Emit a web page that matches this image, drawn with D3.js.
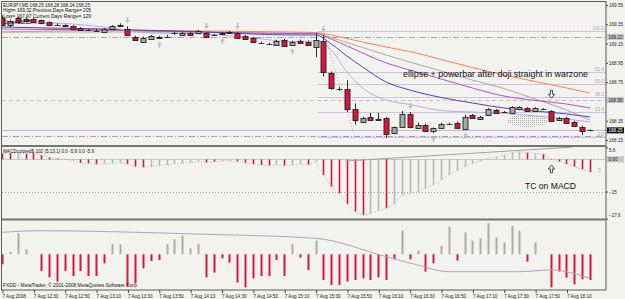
<!DOCTYPE html>
<html>
<head>
<meta charset="utf-8">
<script src="https://cdn.jsdelivr.net/npm/d3@7"></script>
<style>
  body { margin: 0; background: #f4f4f0; }
  svg { display: block; font-family: "Liberation Sans", Arial, sans-serif; }
</style>
</head>
<body>
<div id="chart"></div>
<script>
// ---- data (EURJPY M5, 7 Aug 2008, 76 bars from 12:10) ----
var opens  = [169.42,169.34,169.42,169.40,169.41,169.39,169.37,169.34,169.34,169.33,169.31,169.29,169.28,169.27,169.30,169.34,
              169.30,169.22,169.17,169.20,169.22,169.22,169.26,169.24,169.26,169.26,169.26,169.24,169.26,169.27,169.26,169.23,
              169.21,169.16,169.15,169.14,169.19,169.14,169.18,169.17,169.12,169.18,168.85,168.68,168.68,168.47,168.34,168.39,
              168.37,168.38,168.22,168.29,168.42,168.28,168.31,168.24,168.28,168.32,168.33,168.27,168.41,168.37,168.41,168.46,
              168.44,168.43,168.47,168.48,168.45,168.47,168.45,168.36,168.38,168.34,168.29,168.25];
var highs  = [169.44,169.40,169.43,169.42,169.42,169.40,169.38,169.36,169.35,169.34,169.32,169.30,169.30,169.31,169.34,169.36,
              169.33,169.23,169.22,169.24,169.23,169.24,169.27,169.27,169.27,169.29,169.27,169.25,169.27,169.28,169.27,169.24,
              169.22,169.17,169.16,169.19,169.20,169.18,169.19,169.18,169.26,169.24,168.86,168.70,168.77,168.53,168.39,168.43,
              168.43,168.39,168.29,168.45,168.44,168.33,168.32,168.28,168.33,168.33,168.34,168.41,168.42,168.40,168.48,168.47,
              168.45,168.50,168.50,168.49,168.49,168.48,168.46,168.39,168.39,168.35,168.30,168.26];
var lows   = [169.33,169.32,169.37,169.37,169.37,169.35,169.33,169.33,169.32,169.29,169.28,169.28,169.27,169.26,169.29,169.32,
              169.23,169.18,169.16,169.19,169.20,169.21,169.24,169.23,169.23,169.25,169.21,169.23,169.24,169.25,169.20,169.19,
              169.16,169.15,169.14,169.13,169.12,169.13,169.15,169.13,169.01,168.81,168.67,168.66,168.44,168.31,168.33,168.35,
              168.35,168.17,168.21,168.28,168.27,168.27,168.24,168.22,168.27,168.31,168.27,168.26,168.37,168.36,168.40,168.42,
              168.43,168.42,168.46,168.44,168.44,168.46,168.34,168.35,168.32,168.29,168.20,168.24];
var closes = [169.35,169.38,169.38,169.38,169.38,169.36,169.34,169.34,169.33,169.30,169.29,169.29,169.28,169.30,169.33,169.33,
              169.24,169.19,169.21,169.23,169.21,169.22,169.26,169.26,169.24,169.28,169.22,169.24,169.25,169.26,169.21,169.20,
              169.17,169.16,169.15,169.18,169.13,169.17,169.16,169.14,169.19,168.86,168.69,168.68,168.47,168.36,168.38,168.36,
              168.36,168.21,168.28,168.42,168.28,168.31,168.25,168.27,168.32,168.32,168.28,168.39,168.38,168.39,168.47,168.43,
              168.44,168.49,168.49,168.45,168.48,168.47,168.35,168.38,168.33,168.30,168.25,168.25];

// moving averages, sampled at these bars
var maBars     = [0, 6, 13, 19, 26, 32, 37, 40, 42, 44, 46, 49, 52, 56, 60, 64, 68, 72, 75];
var maCoral    = [169.270,169.280,169.286,169.286,169.280,169.275,169.270,169.265,169.239,169.203,169.166,169.114,169.068,168.985,168.902,168.824,168.757,168.689,168.637];
var maGray     = [169.270,169.270,169.270,169.270,169.265,169.260,169.260,169.260,169.213,169.161,169.109,169.032,168.959,168.866,168.772,168.684,168.575,168.461,168.357];
var maPurple   = [169.301,169.296,169.291,169.280,169.270,169.260,169.254,169.254,169.197,169.125,169.052,168.949,168.876,168.783,168.689,168.606,168.560,168.523,168.482];
var maNavy     = [169.322,169.311,169.301,169.286,169.270,169.249,169.239,169.239,169.146,169.021,168.907,168.751,168.669,168.591,168.534,168.482,168.451,168.420,168.389];
var maLavender = [169.353,169.363,169.322,169.260,169.249,169.208,169.171,169.177,169.083,168.855,168.689,168.565,168.518,168.456,168.440,168.425,168.399,168.368,168.337];

var fractalHighBars = [16, 26, 30, 41, 52];
var fractalLowBars  = [20, 28, 37, 55, 59];

var fibLevels = [100, 61.8, 50, 38.2, 23.6, 0];
var fibLabels = ["100.0", "61.8", "50.0", "38.2", "23.6", "0.0"];
var fibHigh = 169.28, fibLow = 168.18, fibStartBar = 41, fibEndBar = 45;

var priceLines = [169.22, 168.565, 168.25, 168.19];
var priceTicks = [169.55, 169.35, 169.15, 168.95, 168.75, 168.35, 168.15];

// MACD colored (5,13,1)
var macdValues = [2.8,2.9,2.8,2.8,2.8,2.0,0.9,0.3,0.1,-0.6,-1.6,-1.9,-2.2,-2.2,-1.9,-1.6,
                  -2.2,-3.4,-3.7,-3.4,-2.8,-2.6,-2.2,-1.9,-1.6,-1.1,-1.4,-1.1,-0.8,-0.6,-1.1,-1.6,
                  -2.2,-2.6,-3.0,-2.6,-3.0,-2.6,-2.2,-2.6,-1.1,-7.3,-12.7,-15.8,-20.8,-24.4,-26.0,-25.1,
                  -23.9,-22.8,-21.0,-16.6,-15.8,-15.1,-13.5,-12.0,-9.6,-7.3,-5.3,-3.4,-1.9,-0.6,0.3,1.2,
                  2.0,3.1,3.5,3.1,2.8,2.5,0.2,-1.1,-2.2,-3.4,-4.7,-5.9];
var macdUp     = [0,0,1,0,0,0,0,0,0,1,0,0,0,1,1,1,
                  0,0,0,1,1,1,1,1,1,1,0,0,1,1,0,0,
                  0,0,0,1,0,1,1,0,1,0,0,0,0,0,0,1,
                  1,0,1,1,1,1,1,1,1,1,1,1,1,1,1,1,
                  1,1,1,0,1,0,0,0,0,0,0,0];
var macdTicks = [5.6, -15, -27.6];
var macdTrend = [[43.8, -0.8], [72.8, 5.7]];

// lower oscillator
var oscValues = [-10,2.7,21,5,0,-16.7,-23,-27.3,-16.7,-21.7,-16.7,-21.7,-21.7,-9,10,10,
                 -31.7,-29,-14,-6.7,-5.7,10,15,18.7,6,10,-23,-18.3,-4,-8.3,-28.3,-33,
                 -24,-21.7,-21.7,-5.7,-21.7,10,-3.3,-15.7,13.7,-25.7,-30.7,-30.7,-27.3,-25.7,-24,-25.7,
                 -23,-25.7,-5,23.7,-5,3.7,-17.3,-9,8.3,27.7,-6.3,22,13.7,16,31,16.7,
                 12,28.3,23.3,-7.3,12,0,-33,-17.3,-23.3,-30,-25,-25.7];
var oscLineBars = [0, 5, 14, 26, 40, 49, 53, 57, 66, 70, 75];
var oscLineVals = [22, 23.6, 22.6, 20, 16, -2.4, -10.7, -17.4, -17.4, -15.7, -24];

var timeBars   = [0, 4, 8, 12, 16, 20, 24, 28, 32, 36, 40, 44, 48, 52, 56, 60, 64, 68, 72];
var timeLabels = ["7 Aug 2008", "7 Aug 12:30", "7 Aug 12:50", "7 Aug 13:10", "7 Aug 13:30", "7 Aug 13:50",
                  "7 Aug 14:10", "7 Aug 14:30", "7 Aug 14:50", "7 Aug 15:10", "7 Aug 15:30", "7 Aug 15:50",
                  "7 Aug 16:10", "7 Aug 16:30", "7 Aug 16:50", "7 Aug 17:10", "7 Aug 17:30", "7 Aug 17:50", "7 Aug 18:10"];

// ---- drawing ----
var W = 625, H = 299;
var left = 2, right = 606;

var svg = d3.select("#chart").append("svg")
    .attr("width", W)
    .attr("height", H);

var defs = svg.append("defs");
var bg = defs.append("pattern").attr("id", "bg")
    .attr("width", 4).attr("height", 4).attr("patternUnits", "userSpaceOnUse");
bg.append("rect").attr("width", 4).attr("height", 4).attr("fill", "#f4f4f0");
bg.append("rect").attr("x", 1).attr("y", 1).attr("width", 1).attr("height", 1).attr("fill", "#ece2e2");
bg.append("rect").attr("x", 3).attr("y", 3).attr("width", 1).attr("height", 1).attr("fill", "#eceae6");
var stip = defs.append("pattern").attr("id", "stip")
    .attr("width", 2).attr("height", 2).attr("patternUnits", "userSpaceOnUse");
stip.append("rect").attr("width", 1).attr("height", 1).attr("fill", "#a8a8a8");

defs.append("clipPath").attr("id", "clipP").append("rect")
    .attr("x", left).attr("y", 2).attr("width", right - left).attr("height", 143);
defs.append("clipPath").attr("id", "clipM").append("rect")
    .attr("x", left).attr("y", 147).attr("width", right - left).attr("height", 72);
defs.append("clipPath").attr("id", "clipO").append("rect")
    .attr("x", left).attr("y", 220).attr("width", right - left).attr("height", 70);

svg.append("rect").attr("width", W).attr("height", H).attr("fill", "url(#bg)");

var x  = d3.scaleLinear().domain([0, 75]).range([2, 590]);
var yP = d3.scaleLinear().domain([168.15, 169.55]).range([140, 5]);
var yM = d3.scaleLinear().domain([-27.6, 5.6]).range([218.6, 147.3]);
var yO = d3.scaleLinear().domain([-35.7, 34.3]).range([290, 220]);

function px(i) { return Math.round(x(i)) + 0.5; }

// ===== price pane =====
var pp = svg.append("g").attr("clip-path", "url(#clipP)");

// horizontal price lines
var lineStyles = [
  {c: "#a4a4a4", d: "6,2,1,2"},
  {c: "#e6b4bc", d: "4,3"},
  {c: "#c4b6e4", d: null},
  {c: "#a4a4a4", d: "6,2,1,2"}
];
pp.selectAll(".hline").data(priceLines).enter().append("line")
    .attr("x1", left).attr("x2", right)
    .attr("y1", function(d) { return Math.round(yP(d)) + 0.5; })
    .attr("y2", function(d) { return Math.round(yP(d)) + 0.5; })
    .attr("stroke", function(d, k) { return lineStyles[k].c; })
    .attr("stroke-dasharray", function(d, k) { return lineStyles[k].d; });

// fibonacci levels
function fibPrice(l) { return fibLow + (fibHigh - fibLow) * l / 100; }
pp.selectAll(".fib").data(fibLevels).enter().append("line")
    .attr("x1", x(fibStartBar) - 6).attr("x2", right)
    .attr("y1", function(d) { return Math.round(yP(fibPrice(d))) + 0.5; })
    .attr("y2", function(d) { return Math.round(yP(fibPrice(d))) + 0.5; })
    .attr("stroke", "#cdc2e2");
pp.selectAll(".fibt").data(fibLevels).enter().append("text")
    .attr("x", right - 2)
    .attr("y", function(d) { return yP(fibPrice(d)) - 1; })
    .attr("text-anchor", "end")
    .attr("font-size", 4.6)
    .attr("fill", "#a8a8a8")
    .text(function(d, k) { return fibLabels[k]; });
pp.append("line")
    .attr("x1", x(fibStartBar)).attr("y1", yP(fibHigh))
    .attr("x2", x(fibEndBar)).attr("y2", yP(fibLow))
    .attr("stroke", "#b0b0b0").attr("stroke-dasharray", "1,2");

// moving averages
var maLine = d3.line()
    .x(function(d) { return x(d[0]); })
    .y(function(d) { return yP(d[1]); })
    .curve(d3.curveMonotoneX);
var maSeries = [
  {v: maCoral, c: "#ff7f50"},
  {v: maGray, c: "#a9a9a9"},
  {v: maPurple, c: "#b552c4"},
  {v: maNavy, c: "#4a48b0"},
  {v: maLavender, c: "#b9a8ea"}
];
maSeries.forEach(function(s) {
  pp.append("path")
    .datum(maBars.map(function(b, k) { return [b, s.v[k]]; }))
    .attr("fill", "none")
    .attr("stroke", s.c)
    .attr("stroke-width", 1)
    .attr("d", maLine);
});

// candles
var candles = d3.range(opens.length).map(function(i) {
  return {i: i, o: opens[i], h: highs[i], l: lows[i], c: closes[i]};
});
var cg = pp.append("g");
cg.selectAll(".wick").data(candles).enter().append("line")
    .attr("x1", function(d) { return px(d.i); })
    .attr("x2", function(d) { return px(d.i); })
    .attr("y1", function(d) { return yP(d.h); })
    .attr("y2", function(d) { return yP(d.l); })
    .attr("stroke", "#2a2a2a");
cg.selectAll(".body").data(candles).enter().append("rect")
    .attr("x", function(d) { return px(d.i) - 2.5; })
    .attr("width", 5)
    .attr("y", function(d) { return Math.round(yP(Math.max(d.o, d.c))) + 0.5; })
    .attr("height", function(d) { return Math.max(0.01, Math.round(Math.abs(yP(d.o) - yP(d.c)))); })
    .attr("fill", function(d) { return d.c > d.o ? "#a8a8a8" : (d.c < d.o ? "#dc143c" : "none"); })
    .attr("stroke", "#222")
    .attr("stroke-width", 0.9);

// fractal arrows
function arrowDown(cx, y0, s) {
  return "M" + (cx - 0.8 * s) + "," + y0 + "h" + (1.6 * s) + "v" + (3 * s) + "h" + (1.6 * s) +
         "l" + (-2.4 * s) + "," + (3 * s) + "l" + (-2.4 * s) + "," + (-3 * s) + "h" + (1.6 * s) + "z";
}
function arrowUp(cx, y0, s) {
  return "M" + (cx - 0.8 * s) + "," + y0 + "h" + (1.6 * s) + "v" + (-3 * s) + "h" + (1.6 * s) +
         "l" + (-2.4 * s) + "," + (-3 * s) + "l" + (-2.4 * s) + "," + (3 * s) + "h" + (1.6 * s) + "z";
}
pp.selectAll(".fh").data(fractalHighBars).enter().append("path")
    .attr("d", function(b) { return arrowDown(px(b), yP(highs[b]) - 9, 1); })
    .attr("fill", "#bdbdbd");
pp.selectAll(".fl").data(fractalLowBars).enter().append("path")
    .attr("d", function(b) { return arrowUp(px(b), yP(lows[b]) + 9, 1); })
    .attr("fill", "#bdbdbd");

// ellipse and drawn arrow
pp.append("ellipse")
    .attr("cx", x(67)).attr("cy", yP(168.35))
    .attr("rx", x(2.55) - x(0)).attr("ry", yP(168.35) - yP(168.415))
    .attr("fill", "url(#stip)");
pp.append("path")
    .attr("d", arrowDown(px(70), yP(168.665), 1.3))
    .attr("fill", "#f4f4f0").attr("stroke", "#222").attr("stroke-width", 0.8);

pp.append("text")
    .attr("x", 403).attr("y", yP(168.8))
    .attr("font-size", 9).attr("fill", "#111")
    .attr("textLength", 185).attr("lengthAdjust", "spacingAndGlyphs")
    .text("ellipse + powerbar  after doji straight in warzone");

// header
var header = [
  ["EURJPY,M5  168.25 168.28 168.24 168.25", 87],
  ["High= 169.32    Previous Days Range= 205", 88],
  ["Low= 167.97    Current Days Range= 129", 88],
  ["Close= 168.25", 28]
];
svg.selectAll(".hdr").data(header).enter().append("text")
    .attr("x", 3)
    .attr("y", function(d, k) { return 6.8 + k * 5.6; })
    .attr("font-size", 4.8).attr("fill", "#111")
    .attr("textLength", function(d) { return d[1]; })
    .attr("lengthAdjust", "spacingAndGlyphs")
    .text(function(d) { return d[0]; });

// ===== MACD pane =====
var mp = svg.append("g").attr("clip-path", "url(#clipM)");
mp.append("line").attr("x1", left).attr("x2", right)
    .attr("y1", Math.round(yM(0)) + 0.5).attr("y2", Math.round(yM(0)) + 0.5)
    .attr("stroke", "#c9c9c9");
mp.append("line").attr("x1", left).attr("x2", right)
    .attr("y1", Math.round(yM(-15)) + 0.5).attr("y2", Math.round(yM(-15)) + 0.5)
    .attr("stroke", "#9a9a9a").attr("stroke-dasharray", "1,2");
mp.selectAll(".mb").data(macdValues).enter().append("line")
    .attr("x1", function(d, i) { return px(i); })
    .attr("x2", function(d, i) { return px(i); })
    .attr("y1", yM(0))
    .attr("y2", function(d) { return yM(d); })
    .attr("stroke", function(d, i) { return macdUp[i] ? "#b8b8b8" : "#dc143c"; })
    .attr("stroke-width", 1.6);
mp.append("path")
    .datum(macdValues)
    .attr("fill", "none").attr("stroke", "#b4b4b4").attr("stroke-dasharray", "1,2")
    .attr("d", d3.line().x(function(d, i) { return x(i); }).y(function(d) { return yM(d); }));
mp.append("line")
    .attr("x1", x(macdTrend[0][0])).attr("y1", yM(macdTrend[0][1]))
    .attr("x2", x(macdTrend[1][0])).attr("y2", yM(macdTrend[1][1]))
    .attr("stroke", "#a0a0a0");
mp.append("path")
    .attr("d", arrowUp(px(70), yM(-6.3), 1.3))
    .attr("fill", "#f4f4f0").attr("stroke", "#222").attr("stroke-width", 0.8);
mp.append("text").attr("x", 598).attr("y", yM(-5) + 2)
    .attr("font-size", 5).attr("fill", "#b0b0b0").text("5");
svg.append("text")
    .attr("x", 3).attr("y", 152.8)
    .attr("font-size", 4.8).attr("fill", "#111")
    .attr("textLength", 91).attr("lengthAdjust", "spacingAndGlyphs")
    .text("MACDcolored$ 102 (5,13,1) 0.0 -5.9 0.0 -5.9");
svg.append("text")
    .attr("x", 525).attr("y", 189)
    .attr("font-size", 8.8).attr("fill", "#111")
    .attr("textLength", 51).attr("lengthAdjust", "spacingAndGlyphs")
    .text("TC on MACD");

// ===== lower oscillator pane =====
var op = svg.append("g").attr("clip-path", "url(#clipO)");
op.selectAll(".ob").data(oscValues).enter().append("rect")
    .attr("x", function(d, i) { return Math.round(x(i)) - 0.5; })
    .attr("width", 2)
    .attr("y", function(d) { return d > 0 ? yO(d) : yO(0); })
    .attr("height", function(d) { return Math.abs(yO(d) - yO(0)); })
    .attr("fill", function(d) { return d > 0 ? "#ababab" : "#dc143c"; });
op.append("path")
    .datum(oscLineBars.map(function(b, k) { return [b, oscLineVals[k]]; }))
    .attr("fill", "none").attr("stroke", "#aca6b6")
    .attr("d", d3.line().x(function(d) { return x(d[0]); }).y(function(d) { return yO(d[1]); }).curve(d3.curveMonotoneX));
svg.append("text")
    .attr("x", 3).attr("y", 287.3)
    .attr("font-size", 4.8).attr("fill", "#111")
    .attr("textLength", 135).attr("lengthAdjust", "spacingAndGlyphs")
    .text("FXDD - MetaTrader, \u00a9 2001-2008 MetaQuotes Software Corp.");

// ===== frame & separators =====
svg.append("rect").attr("x", 1.5).attr("y", 1.5).attr("width", right - 1.5).attr("height", 288.5)
    .attr("fill", "none").attr("stroke", "#5a5a5a");
svg.append("rect").attr("x", left).attr("y", 145).attr("width", right - left).attr("height", 2).attr("fill", "#757575");
svg.append("rect").attr("x", left).attr("y", 218.5).attr("width", right - left).attr("height", 2).attr("fill", "#757575");

// ===== axes =====
var pAxis = svg.append("g").attr("transform", "translate(" + right + ",0)")
    .call(d3.axisRight(yP).tickValues(priceTicks).tickSize(2).tickPadding(1).tickFormat(d3.format(".2f")));
var mAxis = svg.append("g").attr("transform", "translate(" + right + ",0)")
    .call(d3.axisRight(yM).tickValues(macdTicks).tickSize(2).tickPadding(1).tickFormat(function(d) { return d3.format("")(d); }));
var tAxis = svg.append("g").attr("transform", "translate(0,290)")
    .call(d3.axisBottom(x).tickValues(timeBars).tickSize(3).tickPadding(1)
      .tickFormat(function(d, k) { return timeLabels[k]; }));
[pAxis, mAxis, tAxis].forEach(function(a) {
  a.select(".domain").remove();
  a.selectAll("line").attr("stroke", "#444");
  a.selectAll("text").attr("font-size", 4.6).attr("fill", "#222")
    .attr("font-family", "Liberation Sans, Arial, sans-serif");
});
mAxis.selectAll(".tick text").attr("dy", function(d) { return d > 0 ? "1.0em" : (d < -20 ? "-0.4em" : "0.32em"); });
tAxis.selectAll(".tick text").attr("text-anchor", "start").attr("x", 0).attr("dy", "0.9em");
tAxis.selectAll(".tick line").attr("transform", "translate(0.5,0)");

// price/value boxes on the axis
var boxes = [
  {v: yP(169.22), t: "169.22", bg: "#c4c4c4", fg: "#222"},
  {v: yP(168.565), t: "168.56", bg: "#c4c4c4", fg: "#222"},
  {v: yP(168.25), t: "168.25", bg: "#111", fg: "#fff"},
  {v: yM(0), t: "0.00", bg: "#c4c4c4", fg: "#222"}
];
var bx = svg.selectAll(".box").data(boxes).enter().append("g");
bx.append("rect")
    .attr("x", right + 1).attr("y", function(d) { return d.v - 3; })
    .attr("width", 17).attr("height", 6)
    .attr("fill", function(d) { return d.bg; });
bx.append("text")
    .attr("x", right + 2.5).attr("y", function(d) { return d.v + 1.7; })
    .attr("font-size", 4.6)
    .attr("fill", function(d) { return d.fg; })
    .text(function(d) { return d.t; });
</script>
</body>
</html>
